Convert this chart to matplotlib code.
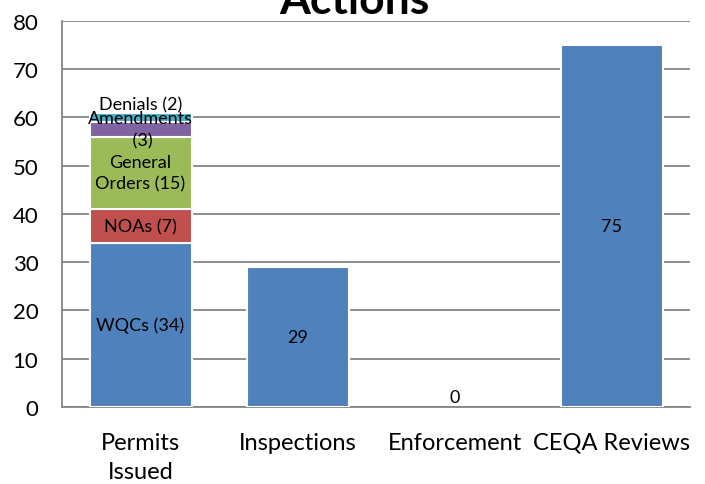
import matplotlib
matplotlib.use("Agg")
from matplotlib import pyplot as plt

plt.rcParams['font.family'] = ['Lato', 'DejaVu Sans']

categories = ['Permits\nIssued', 'Inspections', 'Enforcement', 'CEQA Reviews']
totals = [None, 29, 0, 75]

permit_parts = ['WQCs', 'NOAs', 'General\nOrders', 'Amendments\n', 'Denials']
permit_values = [34, 7, 15, 3, 2]
permit_colors = ['#4F81BD', '#C0504D', '#9BBB59', '#8064A2', '#4BACC6']

fig = plt.figure(figsize=(7.05, 4.85), dpi=100)
ax = fig.add_axes([0.088, 0.159, 0.891, 0.796])

bar_w = 0.65
bottom = 0
for name, val, col in zip(permit_parts, permit_values, permit_colors):
    ax.bar(0, val, bottom=bottom, width=bar_w, color=col, edgecolor='white',
           linewidth=1.5, zorder=3)
    label = f'{name} ({val})'
    dy = 0
    if name == 'Denials':
        dy = 9
    ax.annotate(label, (0, bottom + val / 2), xytext=(0, dy),
                textcoords='offset points', ha='center', va='center',
                fontsize=13, linespacing=1.45, zorder=4)
    bottom += val

for i in range(1, 4):
    v = totals[i]
    if v > 0:
        ax.bar(i, v, width=bar_w, color='#4F81BD', edgecolor='white',
               linewidth=1.5, zorder=3)
        ax.text(i, v / 2, str(v), ha='center', va='center', fontsize=13, zorder=4)
    else:
        ax.annotate(str(v), (i, 0), xytext=(0, 7), textcoords='offset points',
                    ha='center', va='center', fontsize=13)

ax.set_xlim(-0.5, 3.5)
ax.set_ylim(0, 80)
ax.set_yticks(range(0, 81, 10))
ax.set_xticks(range(4))
ax.set_xticklabels(categories, fontsize=17, linespacing=1.45)
ax.tick_params(axis='y', labelsize=16, length=0, pad=17)
ax.tick_params(axis='x', length=0, pad=18)
ax.grid(axis='y', color='#868686', linewidth=1.3, zorder=0)
for s in ['top', 'right']:
    ax.spines[s].set_visible(False)
ax.spines['left'].set_color('#868686')
ax.spines['bottom'].set_color('#868686')
ax.spines['left'].set_linewidth(1.3)
ax.spines['bottom'].set_linewidth(1.3)

fig.text(0.503, 0.972, 'Actions', ha='center', va='baseline',
         fontsize=32, fontweight='bold')

fig.savefig('out.png', dpi=100)
